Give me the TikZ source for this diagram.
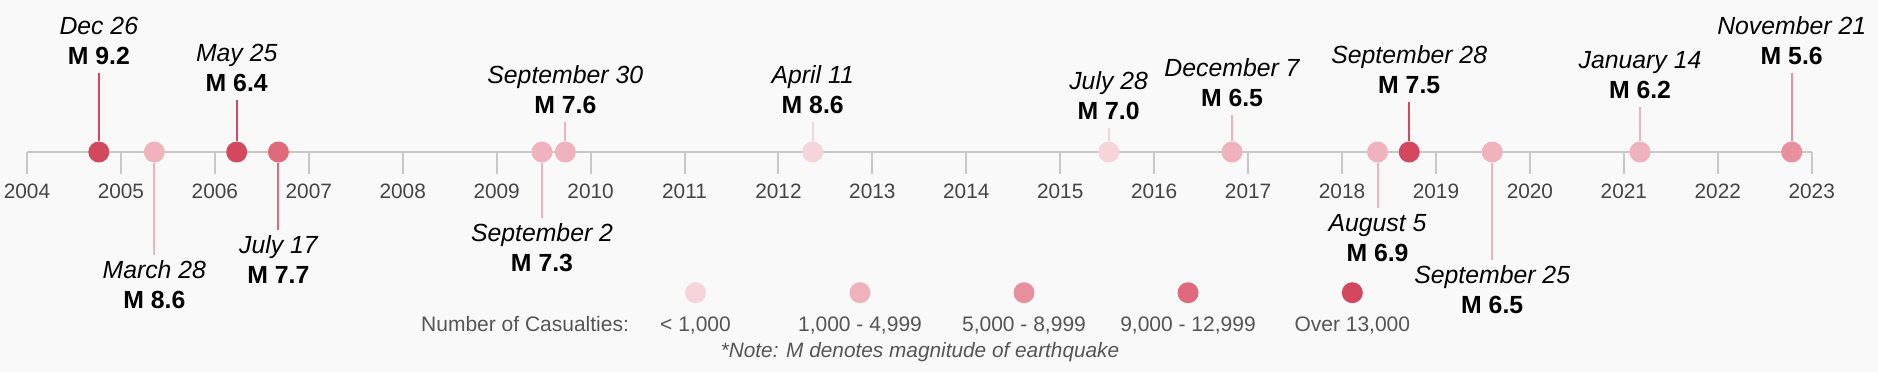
\documentclass[tikz,border=0pt]{standalone}
\usepackage{fontspec}
\setmainfont{Liberation Sans}
\definecolor{bgpaper}{HTML}{F9F9F9}
\definecolor{axisgray}{HTML}{C8C8C8}
\definecolor{yeargray}{HTML}{444444}
\definecolor{legendgray}{HTML}{555555}
\definecolor{casA}{HTML}{F5D5DA}
\definecolor{casB}{HTML}{F0B3BD}
\definecolor{casC}{HTML}{E8909D}
\definecolor{casD}{HTML}{DE6A7C}
\definecolor{casE}{HTML}{D4485F}
\tikzset{
  quake/.style={circle,fill=#1,inner sep=0pt,minimum size=10.5pt},
  stick/.style={draw=#1,line width=1pt},
  datelbl/.style={font=\fontsize{12.4}{14}\selectfont\itshape,inner sep=0pt},
  maglbl/.style={font=\fontsize{12.4}{14}\selectfont\bfseries,inner sep=0pt},
  yearlbl/.style={font=\fontsize{10.4}{12}\selectfont,text=yeargray,anchor=base},
  legendlbl/.style={font=\fontsize{10.5}{12}\selectfont,text=legendgray,anchor=base},
}
\begin{document}
\begin{tikzpicture}[x=0.5pt,y=-0.5pt]
			\fill[bgpaper] (0,0) rectangle (1878,372);
			\useasboundingbox (0,0) rectangle (1878,372);
			\coordinate (axstart) at (27,152);
			\coordinate (axend) at (1811.6,152);
			\draw[axisgray,line width=1pt] (axstart) -- (axend);
			\foreach \yr [count=\i from 0] in {2004,...,2023} {
				\draw[axisgray,line width=1pt] (27+\i*93.93,152) -- ++(0,21.5);
				\node[yearlbl] (yr\yr) at (27+\i*93.93,198.1) {\yr};
			}
			% events labelled above the axis
			\foreach \x/\t/\d/\m/\c [count=\i] in {98.8/73.3/Dec 26/M 9.2/casE,
					236.7/100/May 25/M 6.4/casE, 565.3/122/September 30/M 7.6/casB,
					812.7/122/April 11/M 8.6/casA, 1108.6/128/July 28/M 7.0/casA,
					1232/115/December 7/M 6.5/casB, 1409.2/102/September 28/M 7.5/casE,
					1640/107/January 14/M 6.2/casB, 1791.7/73/November 21/M 5.6/casC} {
				\node[quake=\c] (up\i) at (\x,152) {};
				\node[maglbl,anchor=south,text depth=0pt,inner ysep=4.25pt] (upmag\i) at (\x,\t) {\m};
				\node[datelbl,anchor=base] (update\i) at (\x,\t-39) {\d};
				\draw[stick=\c] (up\i) -- (upmag\i);
			}
			% events labelled below the axis
			\foreach \x/\b/\d/\m/\c [count=\i] in {154.3/255/March 28/M 8.6/casB,
					278.4/230/July 17/M 7.7/casD, 542/218/September 2/M 7.3/casB,
					1377.5/208/August 5/M 6.9/casB, 1492.2/260/September 25/M 6.5/casB} {
				\node[quake=\c] (dn\i) at (\x,152) {};
				\node[datelbl,anchor=north,text height=8.9pt,inner ysep=2.5pt] (dndate\i) at (\x,\b) {\d};
				\node[maglbl,anchor=base] (dnmag\i) at (\x,\b+53.3) {\m};
				\draw[stick=\c] (dn\i) -- (dndate\i);
			}
			\node[legendlbl,anchor=base east] (keytitle) at (636,331.5) {Number of Casualties:};
			\foreach \x/\c/\t [count=\i] in {695.5/casA/{< 1,000}, 860/casB/{1,000 - 4,999},
					1024/casC/{5,000 - 8,999}, 1188/casD/{9,000 - 12,999}, 1352.3/casE/{Over 13,000}} {
				\node[quake=\c] (key\i) at (\x,292.7) {};
				\node[legendlbl] (keylbl\i) at (\x,331.5) {\t};
			}
			\node[legendlbl,font=\fontsize{10.4}{12}\selectfont\itshape] (note) at (920,357.5) {*Note: M denotes magnitude of earthquake};
\end{tikzpicture}
\end{document}
